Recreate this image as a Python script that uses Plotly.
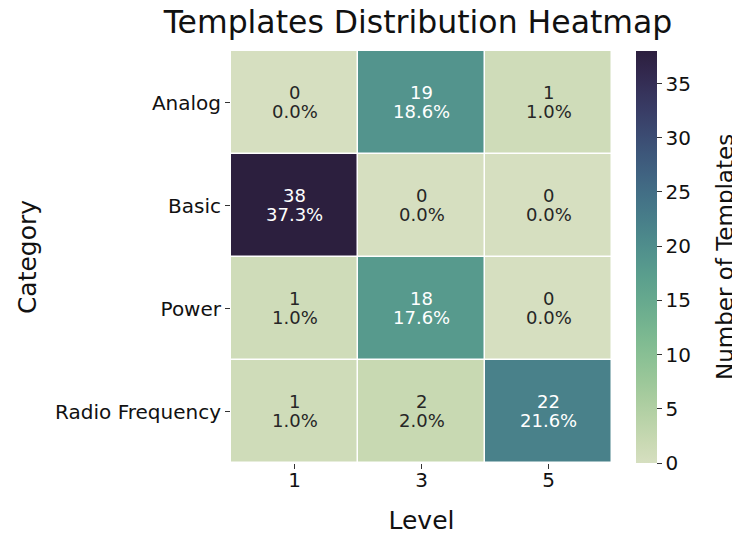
import numpy as np
import plotly.graph_objects as go

levels = ["1", "3", "5"]
categories = ["Analog", "Basic", "Power", "Radio Frequency"]
counts = [
    [0, 19, 1],
    [38, 0, 0],
    [1, 18, 0],
    [1, 2, 22],
]
total = sum(sum(r) for r in counts)
cbar_ticks = [0, 5, 10, 15, 20, 25, 30, 35]

# seaborn cubehelix_palette(start=.5, rot=-.75, light=.85, dark=.15)
def ch(x, start=0.5, rot=-0.75, hue=0.8, gamma=1.0):
    xg = x ** gamma
    a = hue * xg * (1 - xg) / 2
    phi = 2 * np.pi * (start / 3 + rot * x)
    r = xg + a * (-0.14861 * np.cos(phi) + 1.78277 * np.sin(phi))
    g = xg + a * (-0.29227 * np.cos(phi) - 0.90649 * np.sin(phi))
    b = xg + a * (1.97294 * np.cos(phi))
    return [float(np.clip(c, 0, 1)) for c in (r, g, b)]

stops = np.linspace(0, 1, 21)
colorscale = []
for s in stops:
    r, g, b = ch(0.85 + (0.15 - 0.85) * s)
    colorscale.append([float(s), f"rgb({r*255:.0f},{g*255:.0f},{b*255:.0f})"])

zmax = max(max(r) for r in counts)

def lum(v):
    r, g, b = ch(0.85 + (0.15 - 0.85) * v / zmax)
    def f(c):
        return c / 12.92 if c <= 0.03928 else ((c + 0.055) / 1.055) ** 2.4
    return 0.2126 * f(r) + 0.7152 * f(g) + 0.0722 * f(b)

FONT = "DejaVu Sans"
W, H = 732, 527          # page body has an 8px margin
L, R, T, B = 223, 128, 43, 72
PW = W - L - R

fig = go.Figure(go.Heatmap(
    z=counts, x=levels, y=categories,
    colorscale=colorscale, zmin=0, zmax=zmax,
    xgap=1.5, ygap=1.5, hoverinfo="skip",
    colorbar=dict(
        thickness=21, len=1, lenmode="fraction", y=0.5, yanchor="middle",
        x=(628 - L) / PW, xanchor="left", outlinewidth=0, xpad=0, ypad=0,
        tickvals=cbar_ticks, ticks="outside", ticklen=5, tickwidth=1,
        tickcolor="#333", tickfont=dict(family=FONT, size=20, color="#111"),
    ),
))

for i, cat in enumerate(categories):
    for j, lv in enumerate(levels):
        v = counts[i][j]
        col = "#262626" if lum(v) > 0.408 else "white"
        fig.add_annotation(x=j, y=i, xref="x", yref="y", text=f"{v}",
                           showarrow=False, yshift=10, yanchor="middle",
                           font=dict(family=FONT, size=18, color=col))
        fig.add_annotation(x=j, y=i, xref="x", yref="y",
                           text=f"{100*v/total:.1f}%",
                           showarrow=False, yshift=-9, yanchor="middle",
                           font=dict(family=FONT, size=18, color=col))

# colorbar title
fig.add_annotation(x=(717 - L) / PW, y=0.5, xref="paper", yref="paper",
                   text="Number of Templates", textangle=-90, showarrow=False,
                   xanchor="center", yanchor="middle",
                   font=dict(family=FONT, size=23, color="#111"))

fig.update_layout(
    width=W, height=H,
    margin=dict(l=L, r=R, t=T, b=B),
    paper_bgcolor="white", plot_bgcolor="white",
    title=dict(text="Templates Distribution Heatmap", x=410 / W, xanchor="center",
               y=1 - 14 / H, yanchor="middle", yref="container",
               font=dict(family=FONT, size=31.5, color="#111")),
    font=dict(family=FONT, color="#111"),
)
fig.update_xaxes(type="category", showgrid=False, zeroline=False, showline=False,
                 automargin=False, range=[-0.5, 2.5],
                 ticks="outside", ticklen=5, tickcolor="#333",
                 ticklabelstandoff=-6,
                 tickfont=dict(size=20, family=FONT, color="#111"),
                 title=dict(text="Level", font=dict(size=25, family=FONT, color="#111"),
                            standoff=20))
fig.update_yaxes(type="category", range=[3.5, -0.5], showgrid=False, zeroline=False,
                 automargin=False, showline=False, ticks="outside", ticklen=5,
                 tickcolor="#333",
                 tickfont=dict(size=20, family=FONT, color="#111"),
                 title=dict(text="Category", font=dict(size=25, family=FONT, color="#111"),
                            standoff=11))

fig.write_html("out.html")
